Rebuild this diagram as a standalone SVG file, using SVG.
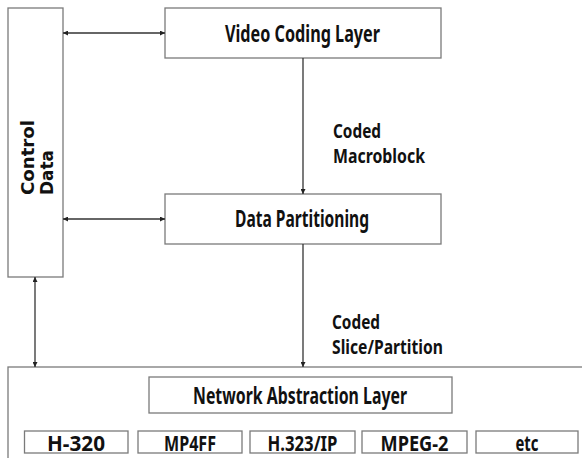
<svg xmlns="http://www.w3.org/2000/svg" width="582" height="458" viewBox="0 0 582 458">
<defs>
<style>
.box{fill:#fff;stroke:#7a7a7a;stroke-width:1.3}
.lbl{font-family:"Noto Sans","Liberation Sans",sans-serif;font-weight:bold;fill:#111}
.ctl{font-family:"DejaVu Sans","Liberation Sans",sans-serif;font-weight:bold;fill:#111;font-size:18px}
.con{stroke:#333;stroke-width:1.3;fill:none}
</style>
<marker id="ah" viewBox="0 0 10 10" refX="10" refY="5" markerWidth="6" markerHeight="5" markerUnits="userSpaceOnUse" orient="auto-start-reverse">
<path d="M0,0 L10,5 L0,10 z" fill="#222"/>
</marker>
</defs>
<rect width="582" height="458" fill="#fff"/>
<g id="control-data">
<rect class="box" x="8" y="8" width="55" height="269"/>
<text class="ctl" transform="translate(33.5,195) rotate(-90)" textLength="75" lengthAdjust="spacingAndGlyphs">Control</text>
<text class="ctl" transform="translate(53,195) rotate(-90)" textLength="45" lengthAdjust="spacingAndGlyphs">Data</text>
</g>
<g id="video-coding-layer">
<rect class="box" x="165" y="8" width="276" height="50"/>
<text class="lbl" x="225" y="41.5" font-size="23" textLength="155" lengthAdjust="spacingAndGlyphs">Video Coding Layer</text>
</g>
<g id="data-partitioning">
<rect class="box" x="165" y="194" width="276" height="50"/>
<text class="lbl" x="235" y="227" font-size="23" textLength="134" lengthAdjust="spacingAndGlyphs">Data Partitioning</text>
</g>
<g id="nal-container">
<rect class="box" x="8" y="367" width="600" height="120"/>
</g>
<g id="network-abstraction-layer">
<rect class="box" x="149" y="377" width="303" height="36"/>
<text class="lbl" x="193" y="403.5" font-size="23" textLength="214" lengthAdjust="spacingAndGlyphs">Network Abstraction Layer</text>
</g>
<g id="h320">
<rect class="box" x="24.5" y="431" width="103.5" height="22"/>
<text class="lbl" x="76" y="451" font-size="21" text-anchor="middle" textLength="58" lengthAdjust="spacingAndGlyphs">H-320</text>
</g>
<g id="mp4ff">
<rect class="box" x="138" y="431" width="104" height="22"/>
<text class="lbl" x="190" y="451" font-size="21" text-anchor="middle" textLength="52" lengthAdjust="spacingAndGlyphs">MP4FF</text>
</g>
<g id="h323ip">
<rect class="box" x="250" y="431" width="105" height="22"/>
<text class="lbl" x="302.5" y="451" font-size="21" text-anchor="middle" textLength="70" lengthAdjust="spacingAndGlyphs">H.323/IP</text>
</g>
<g id="mpeg2">
<rect class="box" x="362" y="431" width="105" height="22"/>
<text class="lbl" x="414.5" y="451" font-size="21" text-anchor="middle" textLength="68" lengthAdjust="spacingAndGlyphs">MPEG-2</text>
</g>
<g id="etc">
<rect class="box" x="476" y="431" width="102" height="22"/>
<text class="lbl" x="527" y="451" font-size="21" text-anchor="middle" textLength="23" lengthAdjust="spacingAndGlyphs">etc</text>
</g>
<g id="connectors">
<line class="con" x1="63" y1="33" x2="165" y2="33" marker-start="url(#ah)" marker-end="url(#ah)"/>
<line class="con" x1="63" y1="219" x2="165" y2="219" marker-start="url(#ah)" marker-end="url(#ah)"/>
<line class="con" x1="303" y1="58" x2="303" y2="194" marker-end="url(#ah)"/>
<line class="con" x1="303" y1="244" x2="303" y2="367" marker-end="url(#ah)"/>
<line class="con" x1="35" y1="277" x2="35" y2="367" marker-start="url(#ah)" marker-end="url(#ah)"/>
<text class="lbl" font-size="19"><tspan x="333" y="137.5" textLength="48" lengthAdjust="spacingAndGlyphs">Coded</tspan><tspan x="333" y="163" textLength="92" lengthAdjust="spacingAndGlyphs">Macroblock</tspan></text>
<text class="lbl" font-size="19"><tspan x="332" y="329" textLength="48" lengthAdjust="spacingAndGlyphs">Coded</tspan><tspan x="332" y="354" textLength="111" lengthAdjust="spacingAndGlyphs">Slice/Partition</tspan></text>
</g>
</svg>
